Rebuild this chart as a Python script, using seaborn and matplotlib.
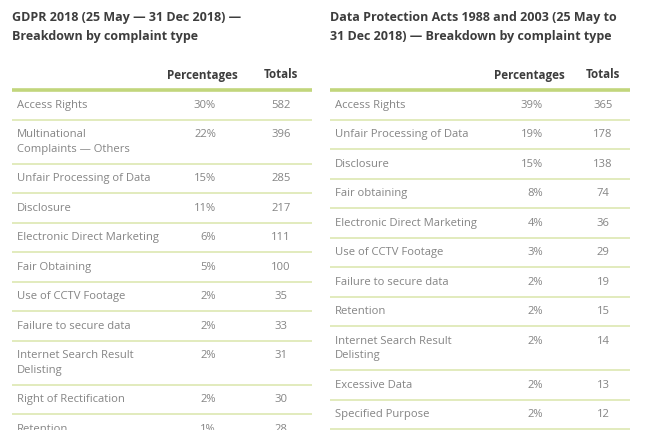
"""Two complaint-type breakdown tables (GDPR vs Data Protection Acts), drawn as a figure."""
import matplotlib.pyplot as plt
import seaborn as sns

# ---- data -----------------------------------------------------------------
left_title = "GDPR 2018 (25 May — 31 Dec 2018) —\nBreakdown by complaint type"
left_labels = [
    "Access Rights",
    "Multinational\nComplaints — Others",
    "Unfair Processing of Data",
    "Disclosure",
    "Electronic Direct Marketing",
    "Fair Obtaining",
    "Use of CCTV Footage",
    "Failure to secure data",
    "Internet Search Result\nDelisting",
    "Right of Rectification",
    "Retention",
]
left_pcts = [30, 22, 15, 11, 6, 5, 2, 2, 2, 2, 1]
left_totals = [582, 396, 285, 217, 111, 100, 35, 33, 31, 30, 28]

right_title = "Data Protection Acts 1988 and 2003 (25 May to\n31 Dec 2018) — Breakdown by complaint type"
right_labels = [
    "Access Rights",
    "Unfair Processing of Data",
    "Disclosure",
    "Fair obtaining",
    "Electronic Direct Marketing",
    "Use of CCTV Footage",
    "Failure to secure data",
    "Retention",
    "Internet Search Result\nDelisting",
    "Excessive Data",
    "Specified Purpose",
]
right_pcts = [39, 19, 15, 8, 4, 3, 2, 2, 2, 2, 2]
right_totals = [365, 178, 138, 74, 36, 29, 19, 15, 14, 13, 12]

col_headers = ["Percentages", "Totals"]

# ---- style ----------------------------------------------------------------
sns.set_theme(style="white")
plt.rcParams["font.family"] = ["Open Sans", "DejaVu Sans"]

TITLE_COLOR = "#3d3d3d"
TEXT_COLOR = "#858585"
THICK_GREEN = "#c2d67c"
THIN_GREEN = "#dfe9b8"

ROW_H = 29.5      # single-line row height (px)
LINE_H = 14.5     # extra height per wrapped line


def draw_table(ax, x0, x1, pct_right, tot_center, title, labels, pcts, totals):
    ax.text(x0, 11.5, title, ha="left", va="top", fontsize=9.0, fontweight="bold",
            color=TITLE_COLOR, linespacing=1.55)
    ax.text(pct_right + 22, 75, col_headers[0], ha="right", va="center",
            fontsize=8.4, fontweight="bold", color=TITLE_COLOR)
    ax.text(tot_center, 75, col_headers[1], ha="center", va="center",
            fontsize=8.4, fontweight="bold", color=TITLE_COLOR)
    ax.plot([x0, x1], [90, 90], color=THICK_GREEN, lw=2.6, solid_capstyle="butt")

    top = 90
    for label, pct, tot in zip(labels, pcts, totals):
        n_lines = label.count("\n") + 1
        height = ROW_H + (n_lines - 1) * LINE_H
        ty = top + ROW_H / 2
        ax.text(x0 + 5, ty - 4.8, label, ha="left", va="top", fontsize=8.1,
                color=TEXT_COLOR, linespacing=1.4)
        ax.text(pct_right, ty + 0.5, f"{pct}%", ha="right", va="center",
                fontsize=8.1, color=TEXT_COLOR)
        ax.text(tot_center, ty + 0.5, str(tot), ha="center", va="center",
                fontsize=8.1, color=TEXT_COLOR)
        top += height
        ax.plot([x0, x1], [top, top], color=THIN_GREEN, lw=1.3, solid_capstyle="butt")


fig = plt.figure(figsize=(6.5, 4.3), dpi=100)
ax = fig.add_axes([0, 0, 1, 1])
ax.set_xlim(0, 650)
ax.set_ylim(430, 0)
ax.axis("off")

draw_table(ax, 12, 312, 216, 281, left_title, left_labels, left_pcts, left_totals)
draw_table(ax, 330, 630, 543, 603, right_title, right_labels, right_pcts, right_totals)

fig.savefig("out.png", dpi=100, facecolor="white")
